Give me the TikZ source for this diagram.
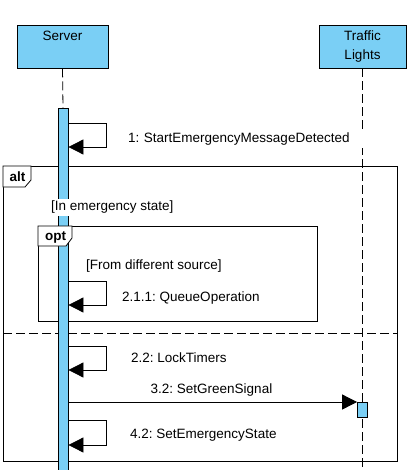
\documentclass[tikz,border=0pt]{standalone}
\usepackage{fontspec}
\setmainfont{Liberation Sans}
\usetikzlibrary{arrows.meta,positioning}
\definecolor{lifeblue}{RGB}{122,207,245}
\frenchspacing

\begin{document}
\begin{tikzpicture}[
x=1pt, y=-1pt,
font=\fontsize{13.5}{19}\selectfont,
lifebox/.style={draw, fill=lifeblue, line width=0.8pt, minimum width=91pt, minimum height=43pt, align=center, inner sep=0pt},
bar/.style={draw, fill=lifeblue, line width=0.8pt, minimum width=10pt, inner sep=0pt, anchor=north},
lifeline/.style={line width=0.8pt, dash pattern=on 9pt off 4pt},
fragment/.style={draw, line width=0.8pt, anchor=north west, inner sep=0pt},
frame/.style={draw, fill=white, line width=0.8pt},
msg/.style={line width=0.8pt, -{Triangle[length=15pt, width=15pt]}},
txt/.style={anchor=base west, fill=white, inner sep=2pt},
tab/.style={anchor=base, inner sep=0pt, font=\fontsize{13.5}{19}\selectfont\bfseries}
]
\useasboundingbox (0,0) rectangle (410,470);

% lifeline heads
\node[lifebox] (server) at (62.5,46.5) {Server\\\phantom{Lights}};
\node[lifebox, minimum width=87pt] (lights) at (362.5,46.5) {Traffic\\Lights};

% combined fragments
\node[fragment, minimum width=394pt, minimum height=295pt] (alt) at (3,166) {};
\node[fragment, minimum width=279pt, minimum height=95pt] (opt) at (38,226) {};
\draw[lifeline] (alt.west |- 0,333) -- (alt.east |- 0,333);

% lifelines and activations
\draw[lifeline] (server.south) -- (63,108);
\draw[lifeline] (lights.south) -- (lights.south |- 0,470);
\node[bar, minimum height=362pt] (sbar) at (63,108) {};
\node[bar, minimum height=15pt] (lbar) at (362.5,402) {};

% fragment tabs
\draw[frame] (alt.north west) -- ++(0,21) -- ++(22,0) -- ++(6,-7) -- ++(0,-14) -- cycle;
\node[tab] (altlabel) at (17.5,181.7) {alt};
\draw[frame] (opt.north west) -- ++(0,20) -- ++(28,0) -- ++(6,-8) -- ++(0,-12) -- cycle;
\node[tab] (optlabel) at (55.5,240.7) {opt};

% guards and message labels
\node[txt, text width=236pt] (m1) at (126,142.7) {1: StartEmergencyMessageDetected};
\node[txt] (g1) at (49,210.7) {[In emergency state]};
\node[txt] (g2) at (84,269) {[From different source]};
\node[txt] (m211) at (120,301.5) {2.1.1: QueueOperation};
\node[txt] (m22) at (129,362.5) {2.2: LockTimers};
\node[txt] (m32) at (148.5,393.5) {3.2: SetGreenSignal};
\node[txt] (m42) at (128,438) {4.2: SetEmergencyState};

% messages
\draw[msg] (sbar.east |- 0,123) -- ++(37.5,0) -- ++(0,24) -- (sbar.east |- 0,147);
\draw[msg] (sbar.east |- 0,281) -- ++(37.5,0) -- ++(0,24) -- (sbar.east |- 0,305);
\draw[msg] (sbar.east |- 0,346) -- ++(37.5,0) -- ++(0,24) -- (sbar.east |- 0,370);
\draw[msg] (sbar.east |- 0,402) -- (lbar.north west);
\draw[msg] (sbar.east |- 0,420) -- ++(37.5,0) -- ++(0,25) -- (sbar.east |- 0,445);
\end{tikzpicture}
\end{document}
